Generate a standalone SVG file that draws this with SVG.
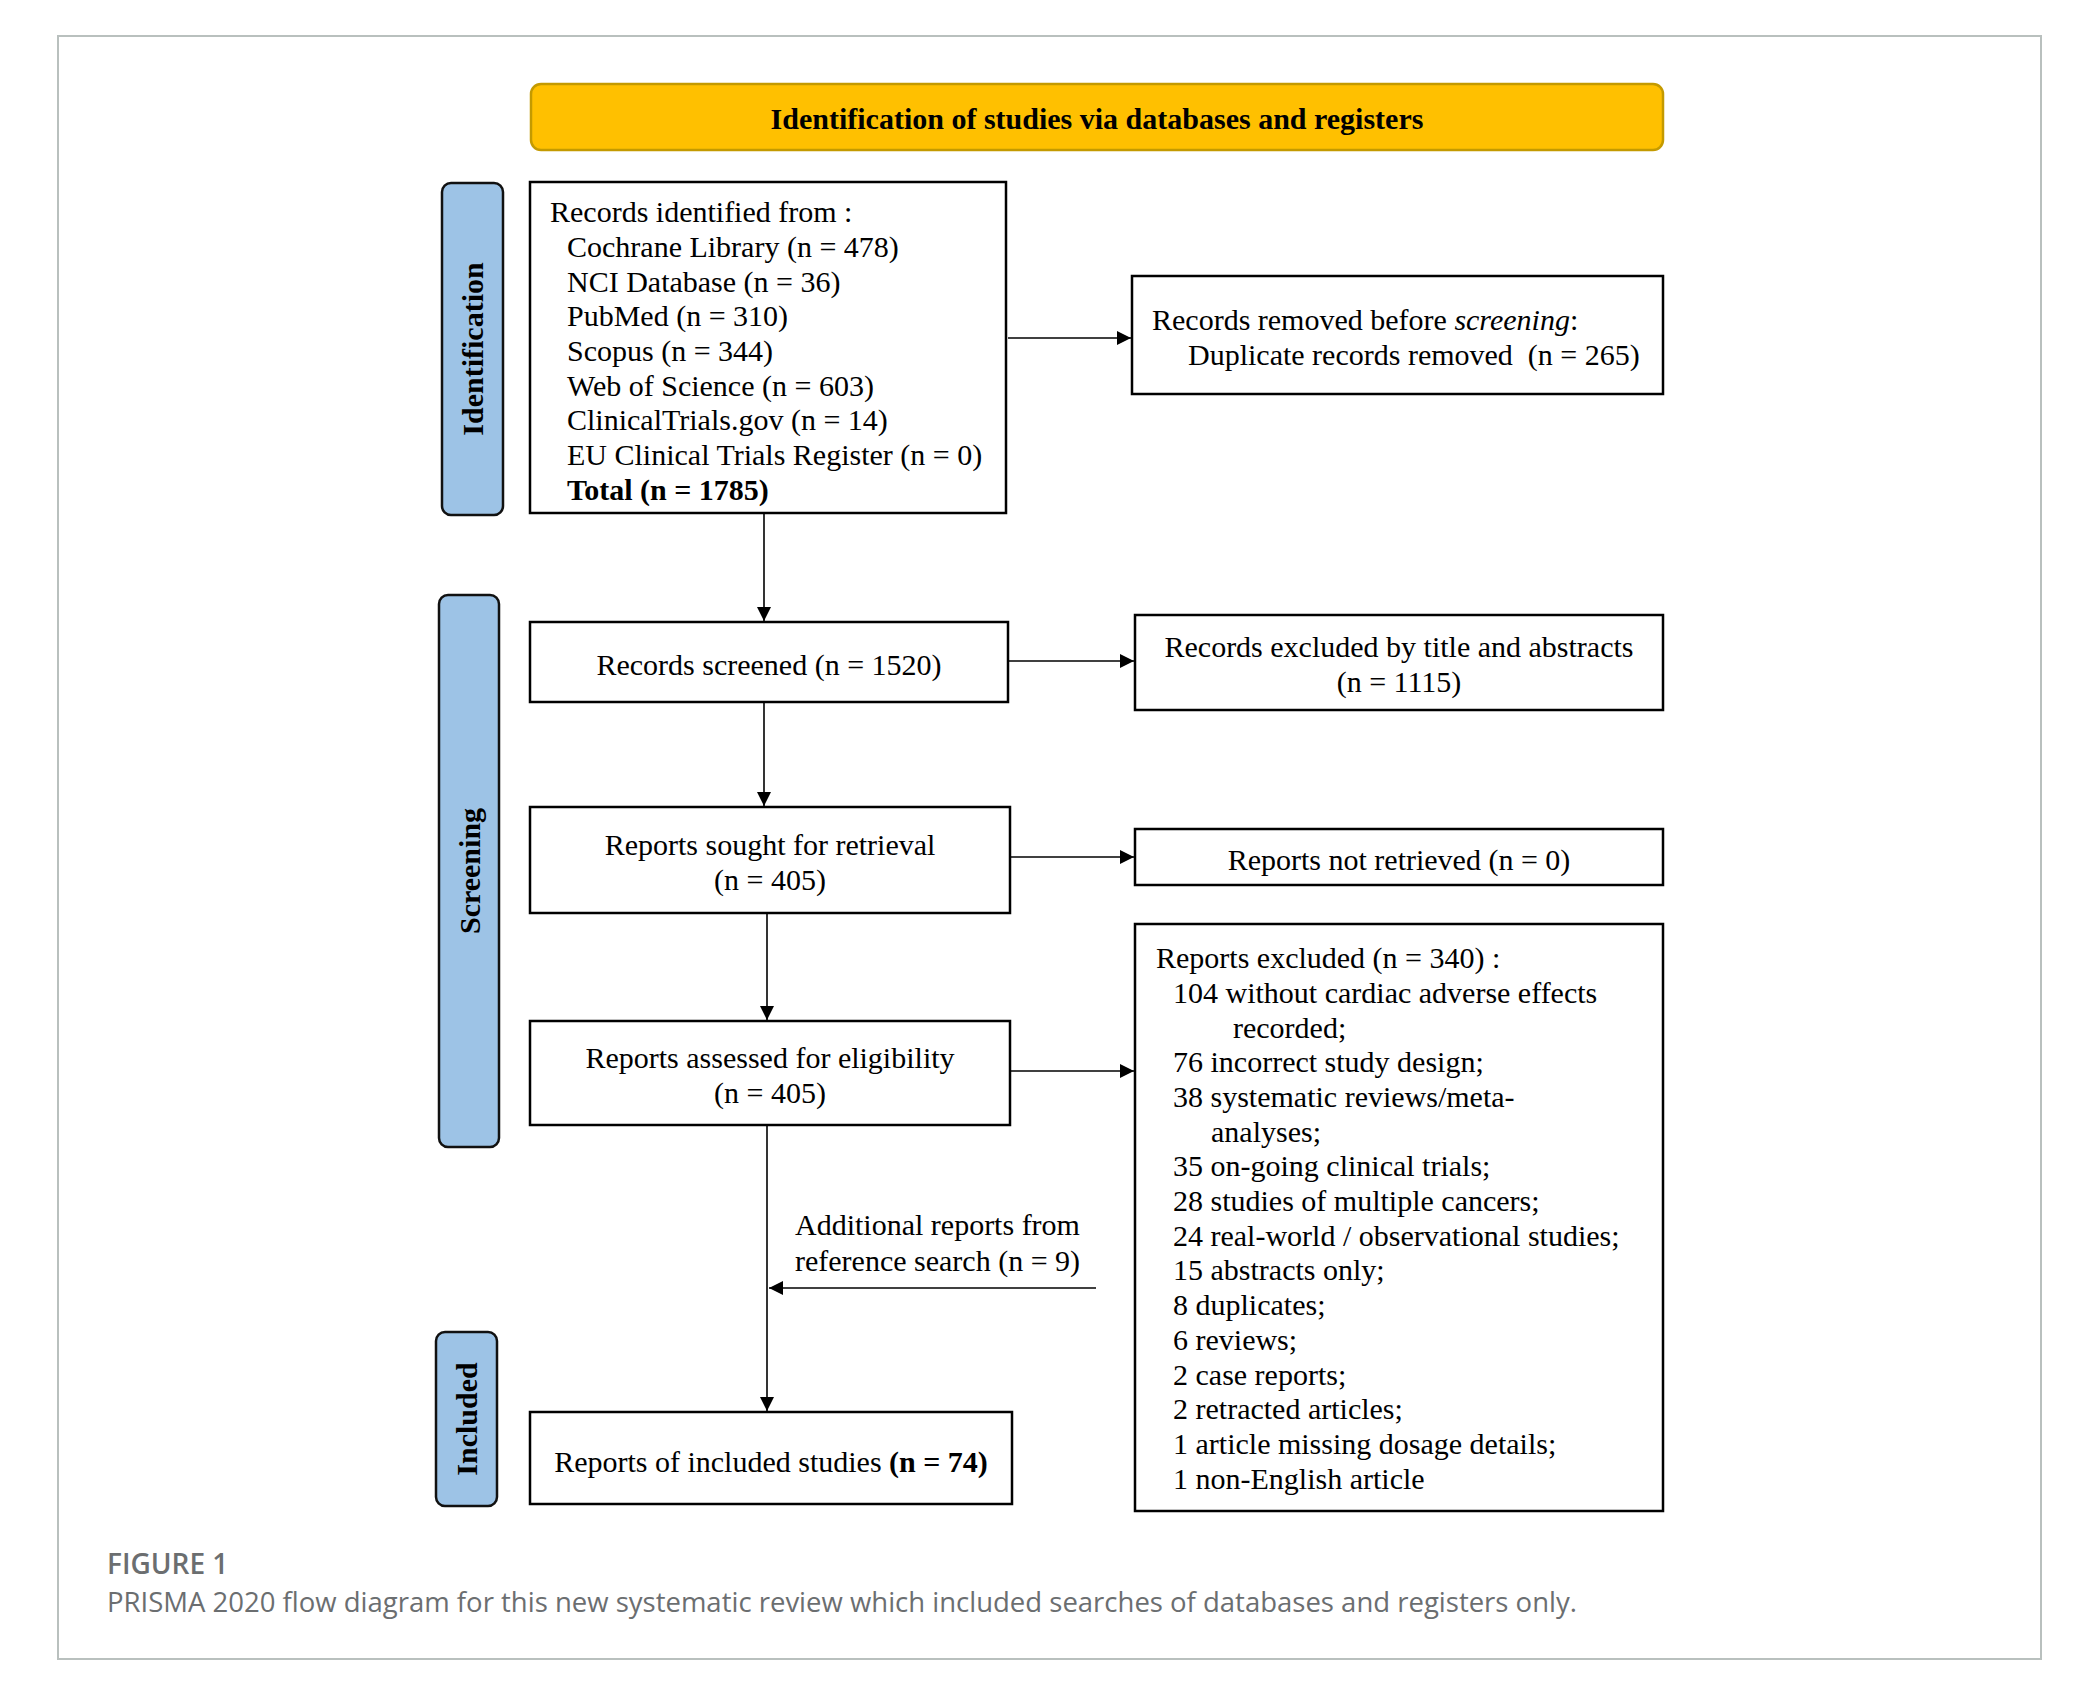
<svg xmlns="http://www.w3.org/2000/svg" width="2093" height="1688" viewBox="0 0 2093 1688">
<defs>
<marker id="ah" markerWidth="14" markerHeight="14" refX="14" refY="7" orient="auto" markerUnits="userSpaceOnUse">
<path d="M0,0 L14,7 L0,14 Z" fill="#000"/>
</marker>
<style>
.t{font-family:"Liberation Serif","Times New Roman",serif;font-size:30px;fill:#000}
.b{font-weight:bold}
.box{fill:#fff;stroke:#000;stroke-width:2.5}
.side{fill:#9DC3E6;stroke:#111;stroke-width:2.5}
.side-t{font-family:"Liberation Serif","Times New Roman",serif;font-size:30px;font-weight:bold;fill:#000}
.c{stroke:#000;stroke-width:1.6;fill:none;marker-end:url(#ah)}
.cap{font-family:"Open Sans","Noto Sans",sans-serif;fill:#6b6e70}
</style>
</defs>
<rect width="2093" height="1688" fill="#fff"/>
<rect x="58" y="36" width="1983" height="1623" fill="#fff" stroke="#b9c0be" stroke-width="2"/>

<g id="header">
<rect x="531" y="84" width="1132" height="66" rx="10" fill="#FFC000" stroke="#C49A00" stroke-width="2.5"/>
<text class="t b" x="1097" y="129" text-anchor="middle">Identification of studies via databases and registers</text>
</g>

<g id="side-identification">
<rect class="side" x="442" y="183" width="61" height="332" rx="9"/>
<text class="side-t" transform="translate(483,349) rotate(-90)" text-anchor="middle">Identification</text>
</g>
<g id="side-screening">
<rect class="side" x="439" y="595" width="60" height="552" rx="9"/>
<text class="side-t" transform="translate(480,871) rotate(-90)" text-anchor="middle">Screening</text>
</g>
<g id="side-included">
<rect class="side" x="436" y="1332" width="61" height="174" rx="9"/>
<text class="side-t" transform="translate(477,1419) rotate(-90)" text-anchor="middle">Included</text>
</g>

<g id="records-identified">
<rect class="box" x="530" y="182" width="476" height="331"/>
<text class="t" x="550" y="222">Records identified from :</text>
<text class="t" x="567" y="257">Cochrane Library (n = 478)</text>
<text class="t" x="567" y="292">NCI Database (n = 36)</text>
<text class="t" x="567" y="326">PubMed (n = 310)</text>
<text class="t" x="567" y="361">Scopus (n = 344)</text>
<text class="t" x="567" y="396">Web of Science (n = 603)</text>
<text class="t" x="567" y="430">ClinicalTrials.gov (n = 14)</text>
<text class="t" x="567" y="465">EU Clinical Trials Register (n = 0)</text>
<text class="t b" x="567" y="500">Total (n = 1785)</text>
</g>

<g id="records-removed">
<rect class="box" x="1132" y="276" width="531" height="118"/>
<text class="t" x="1152" y="330">Records removed before <tspan font-style="italic">screening</tspan>:</text>
<text class="t" x="1188" y="365" xml:space="preserve">Duplicate records removed  (n = 265)</text>
</g>

<g id="records-screened">
<rect class="box" x="530" y="622" width="478" height="80"/>
<text class="t" x="769" y="675" text-anchor="middle">Records screened (n = 1520)</text>
</g>

<g id="records-excluded">
<rect class="box" x="1135" y="615" width="528" height="95"/>
<text class="t" x="1399" y="657" text-anchor="middle">Records excluded by title and abstracts</text>
<text class="t" x="1399" y="692" text-anchor="middle">(n = 1115)</text>
</g>

<g id="reports-sought">
<rect class="box" x="530" y="807" width="480" height="106"/>
<text class="t" x="770" y="855" text-anchor="middle">Reports sought for retrieval</text>
<text class="t" x="770" y="890" text-anchor="middle">(n = 405)</text>
</g>

<g id="reports-not-retrieved">
<rect class="box" x="1135" y="829" width="528" height="56"/>
<text class="t" x="1399" y="870" text-anchor="middle">Reports not retrieved (n = 0)</text>
</g>

<g id="reports-assessed">
<rect class="box" x="530" y="1021" width="480" height="104"/>
<text class="t" x="770" y="1068" text-anchor="middle">Reports assessed for eligibility</text>
<text class="t" x="770" y="1103" text-anchor="middle">(n = 405)</text>
</g>

<g id="reports-excluded">
<rect class="box" x="1135" y="924" width="528" height="587"/>
<text class="t" x="1156" y="968">Reports excluded (n = 340) :</text>
<text class="t" x="1173" y="1003">104 without cardiac adverse effects</text>
<text class="t" x="1233" y="1038">recorded;</text>
<text class="t" x="1173" y="1072">76 incorrect study design;</text>
<text class="t" x="1173" y="1107">38 systematic reviews/meta-</text>
<text class="t" x="1211" y="1142">analyses;</text>
<text class="t" x="1173" y="1176">35 on-going clinical trials;</text>
<text class="t" x="1173" y="1211">28 studies of multiple cancers;</text>
<text class="t" x="1173" y="1246">24 real-world / observational studies;</text>
<text class="t" x="1173" y="1280">15 abstracts only;</text>
<text class="t" x="1173" y="1315">8 duplicates;</text>
<text class="t" x="1173" y="1350">6 reviews;</text>
<text class="t" x="1173" y="1385">2 case reports;</text>
<text class="t" x="1173" y="1419">2 retracted articles;</text>
<text class="t" x="1173" y="1454">1 article missing dosage details;</text>
<text class="t" x="1173" y="1489">1 non-English article</text>
</g>

<g id="additional-reports">
<text class="t" x="795" y="1235">Additional reports from</text>
<text class="t" x="795" y="1271">reference search (n = 9)</text>
</g>

<g id="reports-included">
<rect class="box" x="530" y="1412" width="482" height="92"/>
<text class="t" x="771" y="1472" text-anchor="middle">Reports of included studies <tspan font-weight="bold">(n = 74)</tspan></text>
</g>

<g id="connectors">
<line class="c" x1="1008" y1="338" x2="1131" y2="338"/>
<line class="c" x1="764" y1="513" x2="764" y2="621"/>
<line class="c" x1="1008" y1="661" x2="1134" y2="661"/>
<line class="c" x1="764" y1="702" x2="764" y2="806"/>
<line class="c" x1="1010" y1="857" x2="1134" y2="857"/>
<line class="c" x1="767" y1="913" x2="767" y2="1020"/>
<line class="c" x1="1010" y1="1071" x2="1134" y2="1071"/>
<line class="c" x1="767" y1="1125" x2="767" y2="1411"/>
<line class="c" x1="1096" y1="1288" x2="769" y2="1288"/>
</g>

<g id="caption">
<text class="cap" x="107" y="1574" font-size="28" font-weight="600">FIGURE 1</text>
<text class="cap" x="107" y="1612" font-size="27.5">PRISMA 2020 flow diagram for this new systematic review which included searches of databases and registers only.</text>
</g>
</svg>
